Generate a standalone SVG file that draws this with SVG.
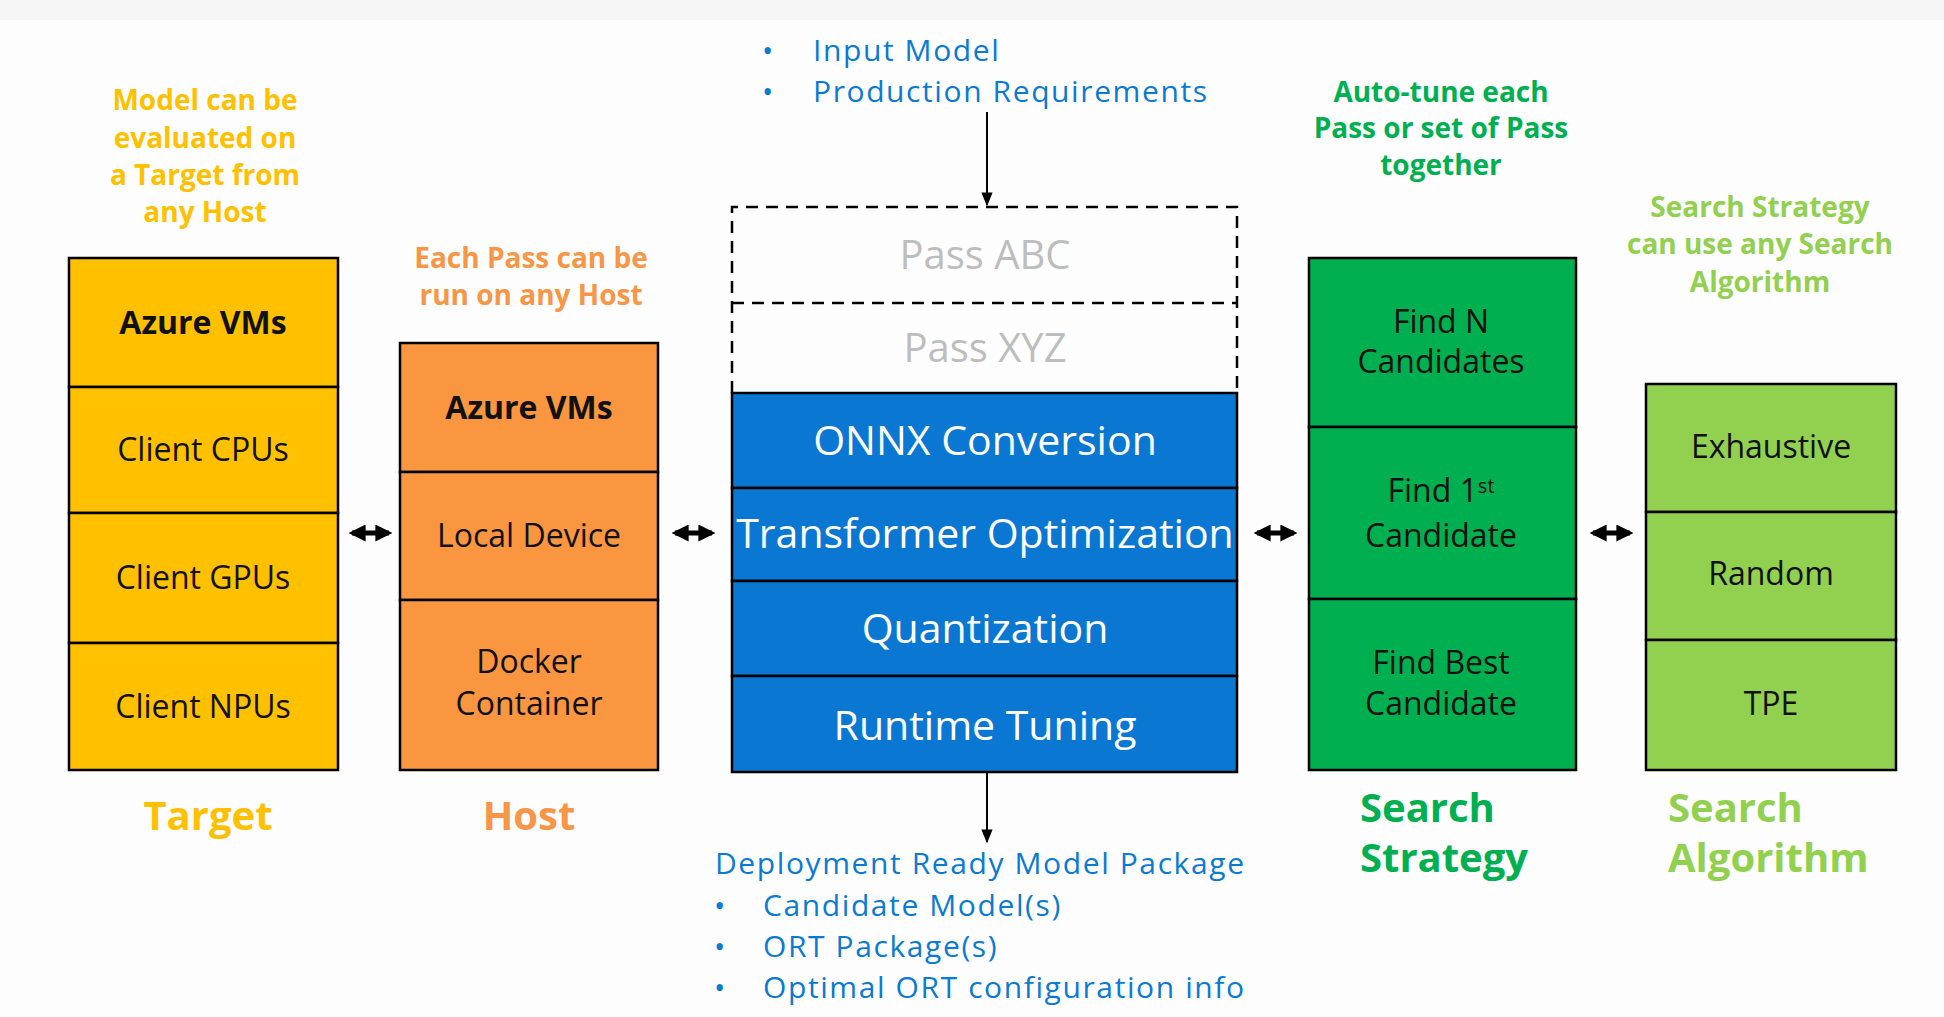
<svg xmlns="http://www.w3.org/2000/svg" width="1944" height="1017" viewBox="0 0 1944 1017">
  <defs>
    <style>
      text { font-family: "Open Sans", "Noto Sans", "Liberation Sans", sans-serif; }
      .cell { stroke: #000; stroke-width: 2.5; }
      .t-target { fill: #FFC000; }
      .t-host { fill: #F9963F; }
      .t-pass { fill: #0A78D2; }
      .t-strat { fill: #00B050; }
      .t-algo { fill: #92D050; }
      .lbl { font-size: 32px; fill: #111; text-anchor: middle; }
      .lbl-b { font-size: 32px; font-weight: 700; fill: #111; text-anchor: middle; }
      .pass { font-size: 41px; fill: #fff; text-anchor: middle; }
      .ghost { font-size: 40px; fill: #BDBDBD; text-anchor: middle; }
      .note { font-size: 28px; font-weight: 700; text-anchor: middle; }
      .title { font-size: 40px; font-weight: 700; }
      .blue { font-size: 30px; letter-spacing: 1.6px; fill: #0A7AD4; }
      .dash { fill: none; stroke: #000; stroke-width: 2.5; stroke-dasharray: 12 8; }
      .link2 { stroke: #000; stroke-width: 5; fill: none; }
      .flow { stroke: #000; stroke-width: 2; fill: none; }
    </style>
    <marker id="dhead" viewBox="0 0 10 10" refX="8" refY="5" markerWidth="3.4" markerHeight="3.4" orient="auto-start-reverse" markerUnits="strokeWidth">
      <path d="M0,0 L10,5 L0,10 Z" fill="#000"/>
    </marker>
    <marker id="fhead" viewBox="0 0 10 10" refX="9" refY="5" markerWidth="7" markerHeight="7" orient="auto" markerUnits="strokeWidth">
      <path d="M0,1 L10,5 L0,9 Z" fill="#000"/>
    </marker>
  </defs>

  <!-- page -->
  <rect x="0" y="0" width="1944" height="1017" fill="#FDFDFD"/>
  <rect x="0" y="0" width="1944" height="20" fill="#F6F6F6"/>

  <!-- Target column -->
  <g id="target">
    <rect class="cell t-target" x="69" y="258" width="269" height="129"/>
    <rect class="cell t-target" x="69" y="387" width="269" height="126"/>
    <rect class="cell t-target" x="69" y="513" width="269" height="130"/>
    <rect class="cell t-target" x="69" y="643" width="269" height="127"/>
    <text class="lbl-b" x="203" y="334">Azure VMs</text>
    <text class="lbl" x="203" y="461">Client CPUs</text>
    <text class="lbl" x="203" y="589">Client GPUs</text>
    <text class="lbl" x="203" y="718">Client NPUs</text>
  </g>
  <g id="target-note" fill="#FFC000">
    <text class="note" x="205" y="110">Model can be</text>
    <text class="note" x="205" y="148">evaluated on</text>
    <text class="note" x="205" y="185">a Target from</text>
    <text class="note" x="205" y="222">any Host</text>
  </g>
  <g id="target-title">
    <text class="title" x="208" y="830" fill="#FFC000" text-anchor="middle">Target</text>
  </g>

  <!-- Host column -->
  <g id="host">
    <rect class="cell t-host" x="400" y="343" width="258" height="129"/>
    <rect class="cell t-host" x="400" y="472" width="258" height="128"/>
    <rect class="cell t-host" x="400" y="600" width="258" height="170"/>
    <text class="lbl-b" x="529" y="419">Azure VMs</text>
    <text class="lbl" x="529" y="547">Local Device</text>
    <text class="lbl" x="529" y="673">Docker</text>
    <text class="lbl" x="529" y="715">Container</text>
  </g>
  <g id="host-note" fill="#F79646">
    <text class="note" x="531" y="268">Each Pass can be</text>
    <text class="note" x="531" y="305">run on any Host</text>
  </g>
  <g id="host-title">
    <text class="title" x="529" y="830" fill="#F79646" text-anchor="middle">Host</text>
  </g>

  <!-- Inputs -->
  <g id="inputs">
    <text class="blue" x="762" y="61">•</text>
    <text class="blue" x="813" y="61">Input Model</text>
    <text class="blue" x="762" y="102">•</text>
    <text class="blue" x="813" y="102">Production Requirements</text>
  </g>

  <!-- Pass stack -->
  <g id="passes">
    <rect class="cell t-pass" x="732" y="393" width="505" height="95"/>
    <rect class="cell t-pass" x="732" y="488" width="505" height="93"/>
    <rect class="cell t-pass" x="732" y="581" width="505" height="95"/>
    <rect class="cell t-pass" x="732" y="676" width="505" height="96"/>
    <text class="pass" x="985" y="455">ONNX Conversion</text>
    <text class="pass" x="985" y="548">Transformer Optimization</text>
    <text class="pass" x="985" y="643">Quantization</text>
    <text class="pass" x="985" y="740">Runtime Tuning</text>
  </g>
  <g id="optional-passes">
    <path class="dash" d="M732,393 V207 H1237 V393"/>
    <path class="dash" d="M732,303 H1237"/>
    <text class="ghost" x="985" y="269">Pass ABC</text>
    <text class="ghost" x="985" y="362">Pass XYZ</text>
  </g>

  <!-- Output package -->
  <g id="outputs">
    <text class="blue" x="715" y="874">Deployment Ready Model Package</text>
    <text class="blue" x="714" y="916">•</text>
    <text class="blue" x="763" y="916">Candidate Model(s)</text>
    <text class="blue" x="714" y="957">•</text>
    <text class="blue" x="763" y="957">ORT Package(s)</text>
    <text class="blue" x="714" y="998">•</text>
    <text class="blue" x="763" y="998">Optimal ORT configuration info</text>
  </g>

  <!-- Search strategy column -->
  <g id="strategy">
    <rect class="cell t-strat" x="1309" y="258" width="267" height="169"/>
    <rect class="cell t-strat" x="1309" y="427" width="267" height="172"/>
    <rect class="cell t-strat" x="1309" y="599" width="267" height="171"/>
    <text class="lbl" x="1441" y="333">Find N</text>
    <text class="lbl" x="1441" y="373">Candidates</text>
    <text class="lbl" x="1441" y="502">Find 1<tspan font-size="20" baseline-shift="45%">st</tspan></text>
    <text class="lbl" x="1441" y="547">Candidate</text>
    <text class="lbl" x="1441" y="674">Find Best</text>
    <text class="lbl" x="1441" y="715">Candidate</text>
  </g>
  <g id="strategy-note" fill="#00B050">
    <text class="note" x="1441" y="102">Auto-tune each</text>
    <text class="note" x="1441" y="138">Pass or set of Pass</text>
    <text class="note" x="1441" y="175">together</text>
  </g>
  <g id="strategy-title" fill="#00B050">
    <text class="title" x="1360" y="822">Search</text>
    <text class="title" x="1360" y="872">Strategy</text>
  </g>

  <!-- Search algorithm column -->
  <g id="algorithm">
    <rect class="cell t-algo" x="1646" y="384" width="250" height="128"/>
    <rect class="cell t-algo" x="1646" y="512" width="250" height="128"/>
    <rect class="cell t-algo" x="1646" y="640" width="250" height="130"/>
    <text class="lbl" x="1771" y="458">Exhaustive</text>
    <text class="lbl" x="1771" y="585">Random</text>
    <text class="lbl" x="1771" y="715">TPE</text>
  </g>
  <g id="algorithm-note" fill="#92D050">
    <text class="note" x="1760" y="217">Search Strategy</text>
    <text class="note" x="1760" y="254">can use any Search</text>
    <text class="note" x="1760" y="292">Algorithm</text>
  </g>
  <g id="algorithm-title" fill="#92D050">
    <text class="title" x="1668" y="822">Search</text>
    <text class="title" x="1668" y="872">Algorithm</text>
  </g>

  <!-- Connectors -->
  <g id="connectors">
    <line class="link2" x1="352" y1="533" x2="389" y2="533" marker-start="url(#dhead)" marker-end="url(#dhead)"/>
    <line class="link2" x1="675" y1="533" x2="712" y2="533" marker-start="url(#dhead)" marker-end="url(#dhead)"/>
    <line class="link2" x1="1257" y1="533" x2="1294" y2="533" marker-start="url(#dhead)" marker-end="url(#dhead)"/>
    <line class="link2" x1="1593" y1="533" x2="1630" y2="533" marker-start="url(#dhead)" marker-end="url(#dhead)"/>
    <line class="flow" x1="987" y1="112" x2="987" y2="205" marker-end="url(#fhead)"/>
    <line class="flow" x1="987" y1="772" x2="987" y2="842" marker-end="url(#fhead)"/>
  </g>
</svg>
